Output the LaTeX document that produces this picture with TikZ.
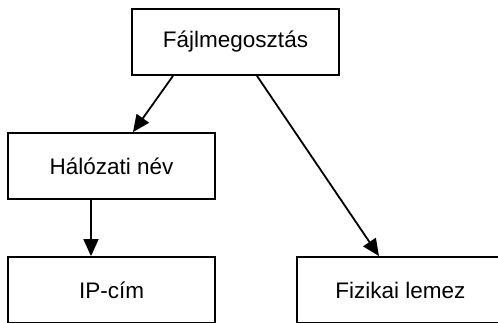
\documentclass[tikz,border=0pt]{standalone}
\usepackage{fontspec}
\setmainfont{Liberation Sans}
\usetikzlibrary{arrows.meta}

\begin{document}
\begin{tikzpicture}[x=1pt,y=-1pt]
\tikzset{box/.style = {shape=rectangle,draw,line width=1.8pt,minimum width=207pt,minimum height=66pt,inner sep=0pt,font=\fontsize{22.5}{26}\selectfont}}
\tikzset{edge/.style = {->,> = {Triangle[length=17pt,width=15pt]},line width=1.8pt}}
\clip (0,0) rectangle (498,322);
% boxes
\node[box] (share) at (235.5,42)  {Fájlmegosztás};
\node[box] (name)  at (111.5,166) {Hálózati név};
\node[box] (ip)    at (111.5,290) {IP-cím};
\node[box] (disk)  at (400.5,290) {Fizikai lemez};
% edges
\draw[edge] ([xshift=-62.5pt]share.south) -- ([xshift=21.5pt]name.north);
\draw[edge] ([xshift=21.5pt]share.south) -- ([xshift=-21.5pt]disk.north);
\draw[edge] ([xshift=-20.5pt]name.south) -- ([xshift=-20.5pt]ip.north);
\end{tikzpicture}
\end{document}
